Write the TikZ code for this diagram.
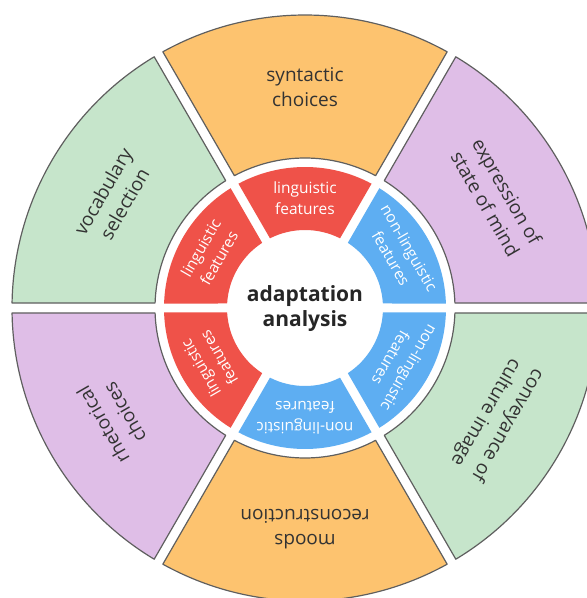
\documentclass[tikz,border=0pt]{standalone}
\usepackage{fontspec}
\setmainfont{Open Sans}
\definecolor{segorange}{HTML}{FDC36F}
\definecolor{seggreen}{HTML}{C6E5CB}
\definecolor{segpurple}{HTML}{DFBEE7}
\definecolor{segred}{HTML}{EF5249}
\definecolor{segblue}{HTML}{5EAEF2}
\definecolor{segborder}{HTML}{5F5F5F}
\definecolor{txtdark}{HTML}{333333}
\newcommand\mysector[5]{%
  \path[#5] ({#1-30+asin(#4/#3)}:#3) arc[start angle={#1-30+asin(#4/#3)}, end angle={#1+30-asin(#4/#3)}, radius=#3]
    -- ({#1+30-asin(#4/#2)}:#2) arc[start angle={#1+30-asin(#4/#2)}, end angle={#1-30+asin(#4/#2)}, radius=#2] -- cycle;}
\tikzset{
  outseg/.style={draw=segborder, line width=1.2pt, line join=round},
  inseg/.style={draw=none},
  outtxt/.style={text=txtdark, align=center, font=\fontsize{19}{25}\selectfont},
  intxt/.style={text=white, align=center, font=\fontsize{15.5}{21}\selectfont},
  centertxt/.style={text=black!85, align=center, font=\fontsize{21}{25}\selectfont\bfseries}
}
\begin{document}
\begin{tikzpicture}[x=1pt,y=1pt]
\useasboundingbox (0,0) rectangle (587,598);
\clip (0,0) rectangle (587,598);
\fill[white] (0,0) rectangle (587,598);
\begin{scope}[shift={(305,290)}]
  % outer ring
  \mysector{90}{150}{293}{5}{outseg, fill=segorange}
  \mysector{150}{150}{293}{5}{outseg, fill=seggreen}
  \mysector{210}{150}{293}{5}{outseg, fill=segpurple}
  \mysector{270}{150}{293}{5}{outseg, fill=segorange}
  \mysector{330}{150}{293}{5}{outseg, fill=seggreen}
  \mysector{30}{150}{293}{5}{outseg, fill=segpurple}
  % inner ring
  \mysector{90}{78}{141}{4.5}{inseg, fill=segred}
  \mysector{150}{78}{141}{4.5}{inseg, fill=segred}
  \mysector{210}{78}{141}{4.5}{inseg, fill=segred}
  \mysector{270}{78}{141}{4.5}{inseg, fill=segblue}
  \mysector{330}{78}{141}{4.5}{inseg, fill=segblue}
  \mysector{30}{78}{141}{4.5}{inseg, fill=segblue}
  % outer texts
  \node[outtxt, rotate=0] (syn) at (90:221) {syntactic\\choices};
  \node[outtxt, rotate=60] (voc) at (150:221) {vocabulary\\selection};
  \node[outtxt, rotate=120] (rhe) at (210:221) {rhetorical\\choices};
  \node[outtxt, rotate=180] (moo) at (270:221) {moods\\reconstruction};
  \node[outtxt, rotate=240] (con) at (330:221) {conveyance of\\culture image};
  \node[outtxt, rotate=-60] (exp) at (30:221) {expression of\\state of mind};
  % inner texts
  \node[intxt, rotate=0] (l1) at (90:110) {linguistic\\features};
  \node[intxt, rotate=60] (l2) at (150:110) {linguistic\\features};
  \node[intxt, rotate=120] (l3) at (210:110) {linguistic\\features};
  \node[intxt, rotate=180] (n1) at (270:110) {non-linguistic\\features};
  \node[intxt, rotate=240] (n2) at (330:110) {non-linguistic\\features};
  \node[intxt, rotate=-60] (n3) at (30:110) {non-linguistic\\features};
  % center
  \node[centertxt] (ctr) at (0,-1) {adaptation\\analysis};
\end{scope}
\end{tikzpicture}
\end{document}
